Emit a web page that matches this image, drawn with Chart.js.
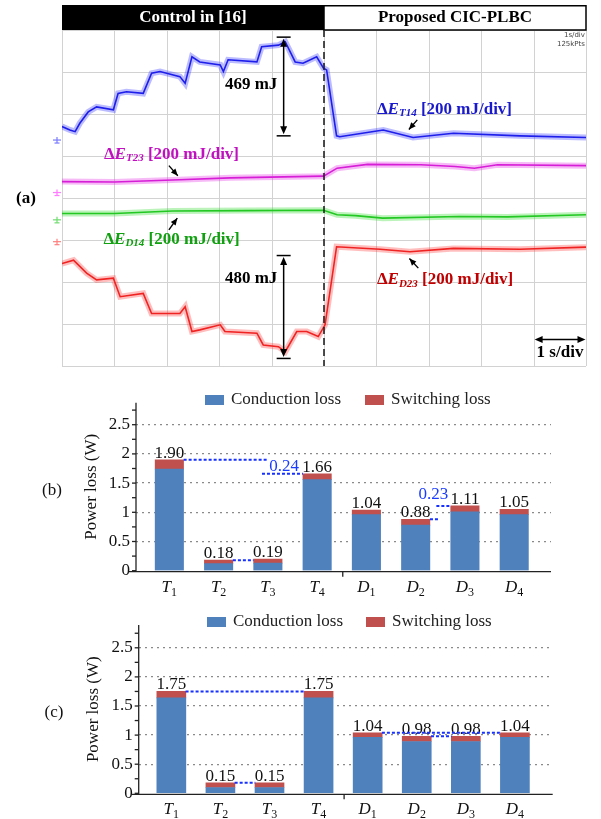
<!DOCTYPE html>
<html>
<head>
<meta charset="utf-8">
<title>Energy deviation and power loss</title>
<script src="https://cdn.jsdelivr.net/npm/chart.js@4.4.1/dist/chart.umd.min.js"></script>
<style>
  body { margin: 0; background: #fff; }
  #page { position: relative; width: 601px; height: 819px; overflow: hidden; }
  canvas { position: absolute; left: 0; }
</style>
</head>
<body>
<div id="page">
  <canvas id="scope" width="601" height="370" style="top:0"></canvas>
  <canvas id="lossB" width="601" height="220" style="top:380px"></canvas>
  <canvas id="lossC" width="601" height="219" style="top:600px"></canvas>
</div>
<script>
// scope traces, x in s (1 s/div), y in divisions (200 mJ/div)
const blueX = [0, 0.15, 0.25, 0.34, 0.50, 0.66, 0.98, 1.07, 1.23, 1.55, 1.71, 1.87, 2.25, 2.35, 2.48, 2.63, 3.02, 3.08, 3.17, 3.72, 3.81, 4.13, 4.26, 4.45, 4.60, 4.86, 4.99, 5.05, 5.24, 5.30, 6.13, 6.70, 7.47, 8.74, 10];
const blueY = [5.70, 5.62, 5.58, 5.78, 6.05, 6.17, 6.10, 6.49, 6.53, 6.49, 6.97, 7.01, 6.89, 6.73, 7.36, 7.24, 7.17, 7.01, 7.29, 7.24, 7.60, 7.64, 7.72, 7.24, 7.21, 7.36, 7.09, 7.05, 5.48, 5.46, 5.62, 5.44, 5.54, 5.48, 5.44];
const magentaX = [0, 1.0, 2.11, 3.21, 4.99, 5.25, 5.83, 6.85, 7.5, 7.87, 8.31, 10];
const magentaY = [4.39, 4.38, 4.43, 4.48, 4.52, 4.71, 4.80, 4.79, 4.75, 4.71, 4.79, 4.77];
const greenX = [0, 1.0, 2.11, 3.5, 4.99, 5.25, 5.6, 6.12, 7.58, 8.5, 10];
const greenY = [3.63, 3.63, 3.69, 3.70, 3.71, 3.60, 3.58, 3.52, 3.56, 3.55, 3.60];
const redX = [0, 0.22, 0.47, 0.66, 0.98, 1.11, 1.55, 1.71, 2.25, 2.35, 2.48, 2.63, 3.02, 3.11, 3.72, 3.84, 4.13, 4.26, 4.48, 4.67, 4.89, 5.02, 5.24, 6.07, 6.64, 7.47, 8.74, 10];
const redY = [2.44, 2.52, 2.21, 2.05, 2.09, 1.65, 1.73, 1.25, 1.25, 1.41, 0.82, 0.86, 0.98, 0.82, 0.78, 0.50, 0.46, 0.34, 0.82, 0.82, 0.70, 0.98, 2.84, 2.78, 2.72, 2.80, 2.78, 2.83];
const markerLevels = [5.38, 4.13, 3.48, 2.96];

// power loss bars
const devices = ['T1', 'T2', 'T3', 'T4', 'D1', 'D2', 'D3', 'D4'];
const condB = [1.74, 0.12, 0.13, 1.56, 0.96, 0.78, 1.01, 0.96];
const swB = [0.16, 0.06, 0.07, 0.10, 0.08, 0.10, 0.10, 0.09];
const totalB = ['1.90', '0.18', '0.19', '1.66', '1.04', '0.88', '1.11', '1.05'];
const condC = [1.64, 0.10, 0.10, 1.64, 0.96, 0.89, 0.89, 0.96];
const swC = [0.11, 0.08, 0.08, 0.11, 0.08, 0.09, 0.09, 0.08];
const totalC = ['1.75', '0.15', '0.15', '1.75', '1.04', '0.98', '0.98', '1.04'];
const yTicks = [0, 0.5, 1, 1.5, 2, 2.5];
// dashed guides: [from, to, value]
const guidesB = [[0.29, 2.0, 1.90], [1.88, 2.71, 1.66], [1.29, 1.71, 0.18], [5.29, 5.49, 0.88], [5.42, 5.71, 1.11]];
const notesB = [['0.24', 2.33, 1.79], ['0.23', 5.36, 1.30]];
const guidesC = [[0.29, 2.71, 1.75], [1.29, 1.71, 0.18], [4.29, 6.71, 1.04], [5.29, 5.71, 0.98]];

const F = "'Liberation Serif', 'Times New Roman', serif";

function seg(ctx, x, y, line) {
    line.forEach(([t, font, dy]) => {
        ctx.font = font;
        ctx.fillText(t, x, y + (dy || 0));
        x += ctx.measureText(t).width;
    });
    return x;
}

function head(ctx, x1, y1, x2, y2, len, wid) {
    const a = Math.atan2(y2 - y1, x2 - x1), c = Math.cos(a), s = Math.sin(a);
    ctx.beginPath();
    ctx.moveTo(x2, y2);
    ctx.lineTo(x2 - len * c + wid * s, y2 - len * s - wid * c);
    ctx.lineTo(x2 - len * c - wid * s, y2 - len * s + wid * c);
    ctx.closePath();
    ctx.fill();
}

function seg2(ctx, x1, y1, x2, y2) {
    ctx.beginPath();
    ctx.moveTo(x1, y1);
    ctx.lineTo(x2, y2);
    ctx.stroke();
}

const scopePlugin = {
    id: 'scope',
    beforeDatasetsDraw(chart) {
        const {ctx, chartArea: a, scales: {x, y}} = chart;
        ctx.save();
        ctx.strokeStyle = '#d2d2d2';
        ctx.lineWidth = 1;
        for (let i = 0; i <= 10; i++) {
            const px = Math.round(x.getPixelForValue(i)) + 0.5;
            seg2(ctx, px, a.top, px, a.bottom);
        }
        for (let j = 0; j <= 8; j++) {
            const py = Math.round(y.getPixelForValue(j)) + 0.5;
            seg2(ctx, a.left, py, a.right, py);
        }
        // channel ground markers
        const mc = ['#7b7bff', '#ff7bff', '#6fdc6f', '#ff8080'];
        markerLevels.forEach((lv, k) => {
            const mx = a.left - 5, my = y.getPixelForValue(lv);
            ctx.strokeStyle = mc[k];
            ctx.lineWidth = 1.2;
            seg2(ctx, mx - 4, my, mx + 4, my);
            seg2(ctx, mx, my - 3, mx, my + 3);
            seg2(ctx, mx - 2.5, my + 3, mx + 2.5, my + 3);
        });
        ctx.restore();
    },
    afterDraw(chart) {
        const {ctx, chartArea: a, scales: {x, y}} = chart;
        const X = v => x.getPixelForValue(v), Y = v => y.getPixelForValue(v);
        ctx.save();
        // header
        ctx.fillStyle = '#000';
        ctx.fillRect(X(0), 5, X(5) - X(0), a.top - 5);
        ctx.strokeStyle = '#000';
        ctx.lineWidth = 1.5;
        ctx.strokeRect(X(5), 5.75, X(10) - X(5), a.top - 5.75);
        ctx.font = `bold 17px ${F}`;
        ctx.textAlign = 'center';
        ctx.textBaseline = 'middle';
        ctx.fillStyle = '#fff';
        ctx.fillText('Control in [16]', (X(0) + X(5)) / 2, 18);
        ctx.fillStyle = '#000';
        ctx.fillText('Proposed CIC-PLBC', (X(5) + X(10)) / 2, 18);
        // tiny scope info
        ctx.font = '7px "DejaVu Sans"';
        ctx.textAlign = 'right';
        ctx.fillStyle = '#444';
        ctx.fillText('1s/div', X(9.98), 35);
        ctx.fillText('125kPts', X(9.98), 44);
        // transition line
        ctx.setLineDash([7, 4]);
        ctx.lineWidth = 1.6;
        ctx.strokeStyle = '#222';
        seg2(ctx, X(5), a.top, X(5), a.bottom);
        ctx.setLineDash([]);
        // measurement arrows
        ctx.fillStyle = '#000';
        ctx.strokeStyle = '#000';
        ctx.lineWidth = 1.5;
        [[4.23, 7.83, 5.48], [4.23, 2.63, 0.18]].forEach(([xv, y1, y2]) => {
            const px = X(xv), p1 = Y(y1), p2 = Y(y2);
            seg2(ctx, px, p1 + 5, px, p2 - 5);
            head(ctx, px, p2, px, p1 + 1.5, 8, 3.5);
            head(ctx, px, p1, px, p2 - 1.5, 8, 3.5);
            seg2(ctx, px - 7, p1, px + 7, p1);
            seg2(ctx, px - 7, p2, px + 7, p2);
        });
        ctx.font = `bold 17px ${F}`;
        ctx.textAlign = 'right';
        ctx.textBaseline = 'middle';
        ctx.fillText('469 mJ', X(4.11), Y(6.69));
        ctx.fillText('480 mJ', X(4.11), Y(2.07));
        // 1 s/div
        const sy = Y(0.63);
        seg2(ctx, X(9.02) + 4, sy, X(9.99) - 4, sy);
        head(ctx, X(9.99), sy, X(9.02), sy, 8, 3.5);
        head(ctx, X(9.02), sy, X(9.99), sy, 8, 3.5);
        ctx.fillText('1 s/div', X(9.95), Y(0.31));
        // trace labels
        ctx.textAlign = 'left';
        const labels = [
            ['T14', '#1a1acc', 6.01, 6.11, [6.78, 5.86, 6.62, 5.63]],
            ['T23', '#c010c0', 0.80, 5.04, [2.04, 4.77, 2.21, 4.53]],
            ['D14', '#10a010', 0.79, 3.02, [2.04, 3.24, 2.20, 3.52]],
            ['D23', '#c00000', 6.01, 2.05, [6.80, 2.33, 6.63, 2.56]]
        ];
        labels.forEach(([sub, col, lx, ly, ar]) => {
            ctx.fillStyle = col;
            seg(ctx, X(lx), Y(ly), [
                ['\u0394', `bold 17px ${F}`],
                ['E', `italic bold 17px ${F}`],
                [sub, `italic bold 11px ${F}`, 4],
                [' [200 mJ/div]', `bold 17px ${F}`]
            ]);
            ctx.fillStyle = '#000';
            ctx.strokeStyle = '#000';
            ctx.lineWidth = 1.4;
            seg2(ctx, X(ar[0]), Y(ar[1]), X(ar[2]), Y(ar[3]));
            head(ctx, X(ar[0]), Y(ar[1]), X(ar[2]), Y(ar[3]), 7, 3);
        });
        // panel label
        ctx.fillStyle = '#000';
        ctx.font = `bold 17px ${F}`;
        ctx.textAlign = 'center';
        ctx.fillText('(a)', 26, 199);
        ctx.restore();
    }
};

function trace(xs, ys, color, halo) {
    const pts = xs.map((v, i) => ({x: v, y: ys[i]}));
    return [
        {data: pts, borderColor: color, borderWidth: 1.6, pointRadius: 0, tension: 0},
        {data: pts, borderColor: halo, borderWidth: 6, pointRadius: 0, tension: 0}
    ];
}

new Chart(document.getElementById('scope'), {
    type: 'line',
    data: {
        datasets: [
            ...trace(blueX, blueY, 'rgb(30,30,235)', 'rgba(60,60,255,0.35)'),
            ...trace(magentaX, magentaY, 'rgb(215,30,215)', 'rgba(230,60,230,0.35)'),
            ...trace(greenX, greenY, 'rgb(35,200,35)', 'rgba(60,220,60,0.35)'),
            ...trace(redX, redY, 'rgb(240,35,35)', 'rgba(255,70,70,0.35)')
        ]
    },
    options: {
        responsive: false,
        animation: false,
        layout: {padding: {left: 62, right: 15, top: 30, bottom: 4}},
        plugins: {legend: {display: false}, tooltip: {enabled: false}},
        scales: {
            x: {type: 'linear', min: 0, max: 10, display: false},
            y: {type: 'linear', min: 0, max: 8, display: false}
        }
    },
    plugins: [scopePlugin]
});

const lossPlugin = {
    id: 'loss',
    afterDraw(chart, args, o) {
        const {ctx, chartArea: a, scales: {x, y}} = chart;
        ctx.save();
        ctx.strokeStyle = '#222';
        ctx.lineWidth = 1.3;
        seg2(ctx, a.left, a.top, a.left, a.bottom + 1);
        for (let v = 0; v <= 2.76; v += 0.25) {
            const py = y.getPixelForValue(v);
            seg2(ctx, a.left - 4, py, a.left, py);
        }
        const axY = a.bottom + 1;
        seg2(ctx, a.left - 7, axY, a.right, axY);
        const mid = x.getPixelForValue(3.52);
        seg2(ctx, mid, axY, mid, axY + 5);
        // y tick labels
        ctx.fillStyle = '#111';
        ctx.font = `17px ${F}`;
        ctx.textAlign = 'right';
        ctx.textBaseline = 'middle';
        yTicks.forEach(v => ctx.fillText(String(v), a.left - 6, y.getPixelForValue(v)));
        // category labels
        ctx.textAlign = 'left';
        ctx.textBaseline = 'alphabetic';
        devices.forEach((d, i) => {
            ctx.font = `italic 17px ${F}`;
            const w1 = ctx.measureText(d[0]).width;
            ctx.font = `12px ${F}`;
            const w2 = ctx.measureText(d.slice(1)).width;
            seg(ctx, x.getPixelForValue(i) - (w1 + w2) / 2, a.bottom + 21, [
                [d[0], `italic 17px ${F}`],
                [d.slice(1), `12px ${F}`, 4]
            ]);
        });
        // totals
        ctx.font = `17px ${F}`;
        ctx.textAlign = 'center';
        chart.getDatasetMeta(1).data.forEach((bar, i) => ctx.fillText(o.totals[i], bar.x, bar.y - 2));
        // guides
        ctx.strokeStyle = '#1530ff';
        ctx.lineWidth = 2;
        ctx.setLineDash([3, 2]);
        o.guides.forEach(([x1, x2, v]) => {
            const py = y.getPixelForValue(v);
            seg2(ctx, x.getPixelForValue(x1), py, x.getPixelForValue(x2), py);
        });
        ctx.setLineDash([]);
        ctx.fillStyle = '#1a3cff';
        ctx.textBaseline = 'middle';
        o.notes.forEach(([t, xv, yv]) => ctx.fillText(t, x.getPixelForValue(xv), y.getPixelForValue(yv)));
        // legend
        ctx.textAlign = 'left';
        const names = ['Conduction loss', 'Switching loss'];
        chart.data.datasets.forEach((ds, k) => {
            const lx = o.legendX[k];
            ctx.fillStyle = ds.backgroundColor;
            ctx.fillRect(lx, o.legendY - 5, 19, 10);
            ctx.fillStyle = '#222';
            ctx.fillText(names[k], lx + 26, o.legendY);
        });
        ctx.fillStyle = '#111';
        ctx.textAlign = 'center';
        ctx.fillText(o.tag, o.tagX, o.tagY);
        ctx.restore();
    }
};

function lossChart(id, cond, sw, opt) {
    const pts = arr => arr.map((v, i) => ({x: i, y: v}));
    return new Chart(document.getElementById(id), {
        type: 'bar',
        data: {
            datasets: [
                {label: 'Conduction loss', data: pts(cond), backgroundColor: '#4f81bd', barThickness: opt.bar},
                {label: 'Switching loss', data: pts(sw), backgroundColor: '#c0504d', barThickness: opt.bar}
            ]
        },
        options: {
            responsive: false,
            animation: false,
            layout: {padding: opt.pad},
            plugins: {
                legend: {display: false},
                tooltip: {enabled: false},
                loss: opt.deco
            },
            scales: {
                x: {type: 'linear', display: false, offset: false, stacked: true, min: opt.xMin, max: opt.xMax},
                y: {
                    stacked: true, min: 0, max: opt.yMax,
                    afterFit: s => { s.width = opt.axisW; },
                    ticks: {display: false, stepSize: 0.5},
                    grid: {
                        drawTicks: false,
                        lineWidth: 1.3,
                        color: c => (c.tick && c.tick.value > 0 && c.tick.value <= 2.5) ? '#8a8a8a' : 'rgba(0,0,0,0)'
                    },
                    border: {display: false, dash: [2, 4]},
                    title: {display: true, text: 'Power loss (W)', color: '#111', font: {family: F, size: 17}}
                }
            }
        },
        plugins: [lossPlugin]
    });
}

lossChart('lossB', condB, swB, {
    bar: 28.4, xMin: -0.677, xMax: 7.747, yMax: 2.875, axisW: 58.2,
    pad: {left: 77.8, right: 50, top: 22.8, bottom: 29.3},
    deco: {totals: totalB, guides: guidesB, notes: notesB, legendX: [205, 365], legendY: 20, tag: '(b)', tagX: 52, tagY: 111}
});

lossChart('lossC', condC, swC, {
    bar: 29, xMin: -0.665, xMax: 7.77, yMax: 2.89, axisW: 58.9,
    pad: {left: 79.8, right: 48.3, top: 25.1, bottom: 25.7},
    deco: {totals: totalC, guides: guidesC, notes: [], legendX: [207, 366], legendY: 22, tag: '(c)', tagX: 54, tagY: 113}
});
</script>
</body>
</html>
